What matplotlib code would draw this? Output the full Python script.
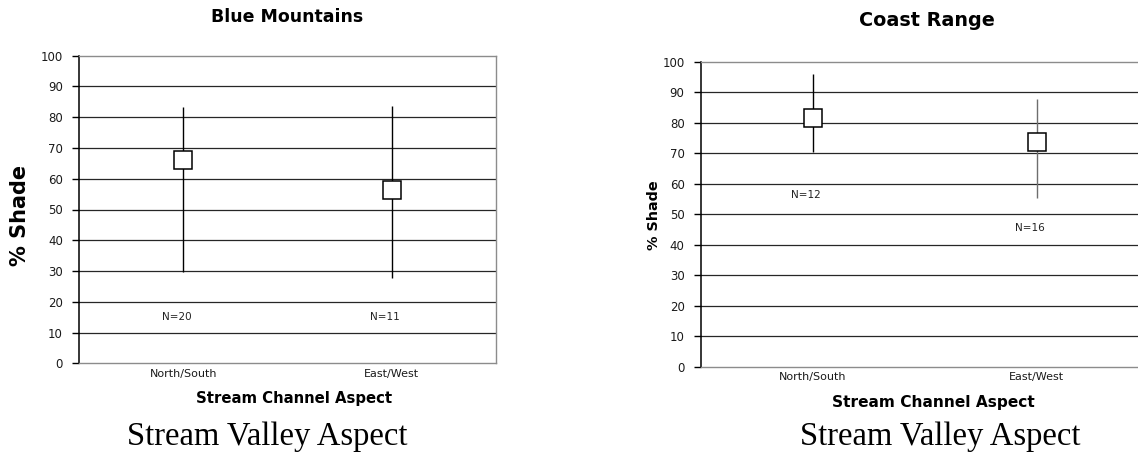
import matplotlib
matplotlib.use("Agg")
import matplotlib.pyplot as plt

# stream channel aspect categories
aspects = ["North/South", "East/West"]

# Blue Mountains: mean shade with low/high range
blue_mean = [66.0, 56.5]
blue_low = [29.6, 27.8]
blue_high = [83.3, 83.7]
blue_n = [20, 11]

# Coast Range
coast_mean = [81.6, 73.8]
coast_low = [70.3, 55.4]
coast_high = [95.9, 87.7]
coast_n = [12, 16]

y_ticks = list(range(0, 101, 10))

W, H = 1138, 453
fig = plt.figure(figsize=(W / 100, H / 100), dpi=100)


def px_axes(left, top, right, bottom):
    return fig.add_axes([left / W, 1 - bottom / H, (right - left) / W, (bottom - top) / H])


def draw_panel(ax, means, lows, highs, counts, n_y, whisker_colors):
    xs = [0.5, 1.5]
    ax.set_xlim(0, 2)
    ax.set_ylim(0, 100)
    for v in y_ticks[1:-1]:
        ax.axhline(v, color="#262626", lw=0.9, zorder=1)
    for x, lo, hi, c in zip(xs, lows, highs, whisker_colors):
        ax.vlines(x, lo, hi, color=c, lw=1.0, zorder=2)
    ax.plot(xs, means, "s", ms=12.5, mfc="white", mec="black", mew=1.1, zorder=3)
    for x, ny, n in zip(xs, n_y, counts):
        ax.text(x - 0.03, ny, f"N={n}", ha="center", va="center", fontsize=7.5, color="#222222")

    ax.set_yticks(y_ticks)
    ax.set_xticks(xs)
    ax.set_xticklabels(aspects)
    ax.tick_params(axis="y", direction="out", length=5, width=1, pad=6.5, labelsize=8.5,
                   labelcolor="#1a1a1a")
    ax.tick_params(axis="x", length=0, pad=4, labelsize=8, labelcolor="#1a1a1a")
    ax.spines["left"].set_color("black")
    ax.spines["left"].set_linewidth(1.1)
    for s in ["top", "right", "bottom"]:
        ax.spines[s].set_color("#8c8c8c")
        ax.spines[s].set_linewidth(1.0)


ax1 = px_axes(79, 55.7, 495.7, 363.3)
draw_panel(ax1, blue_mean, blue_low, blue_high, blue_n, [15, 15], ["black", "black"])

ax2 = px_axes(700.5, 61.7, 1149, 366.7)
draw_panel(ax2, coast_mean, coast_low, coast_high, coast_n, [56.3, 45.4], ["black", "#6e6e6e"])


def ftext(x, y, s, **kw):
    fig.text(x / W, 1 - y / H, s, ha="center", va="center", **kw)


# titles and axis labels
ftext(287, 17, "Blue Mountains", fontsize=12.5, fontweight="bold")
ftext(926.5, 20, "Coast Range", fontsize=13.8, fontweight="bold")

ftext(20, 215, "% Shade", fontsize=15, fontweight="bold", rotation=90)
ftext(654, 215, "% Shade", fontsize=10.4, fontweight="bold", rotation=90)

ftext(294, 399, "Stream Channel Aspect", fontsize=10.7, fontweight="bold")
ftext(933.6, 403, "Stream Channel Aspect", fontsize=11.1, fontweight="bold")

ftext(267, 437, "Stream Valley Aspect", fontsize=23.5, family="Liberation Serif")
ftext(940, 437, "Stream Valley Aspect", fontsize=23.5, family="Liberation Serif")

fig.savefig("out.png", dpi=100)
